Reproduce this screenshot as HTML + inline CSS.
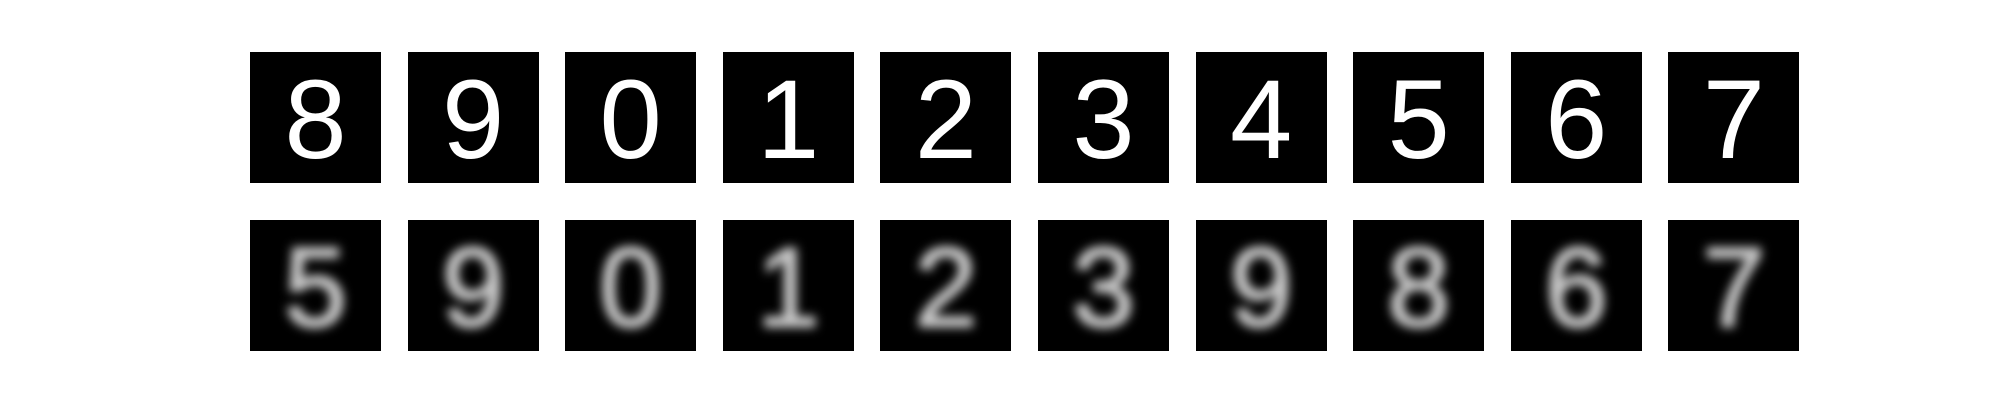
<!DOCTYPE html>
<html><head><meta charset="utf-8"><style>
html,body{margin:0;padding:0;background:#fff;}
#fig{position:relative;width:2000px;height:400px;overflow:hidden;background:#fff;}
.panel{position:absolute;width:131px;height:131px;background:#000;overflow:hidden;}
.digit{position:absolute;left:0;top:2px;width:131px;height:131px;line-height:131px;text-align:center;
 font-family:"Liberation Sans",sans-serif;font-weight:normal;font-size:112px;color:#fff;}
.blur .digit{filter:blur(5px);color:#c8c8c8;-webkit-text-stroke:3px #c8c8c8;}
</style></head><body>
<div id="fig"></div>
<script>
const originalDigits = ['8','9','0','1','2','3','4','5','6','7'];
const reconstructedDigits = ['5','9','0','1','2','3','9','8','6','7'];
const rows = [originalDigits, reconstructedDigits];
const rowNames = ['original', 'reconstructed'];
const fig = document.getElementById('fig');
const x0 = 250, pitch = 157.6, yTop = [52, 220];
rows.forEach((row, r) => {
  row.forEach((d, i) => {
    const p = document.createElement('div');
    p.className = 'panel' + (r === 1 ? ' blur' : '');
    p.style.left = (x0 + i * pitch) + 'px';
    p.style.top = yTop[r] + 'px';
    
    
    const t = document.createElement('div');
    t.className = 'digit';
    t.textContent = d;
    
    
    p.appendChild(t);
    fig.appendChild(p);
  });
});
</script>
</body></html>
